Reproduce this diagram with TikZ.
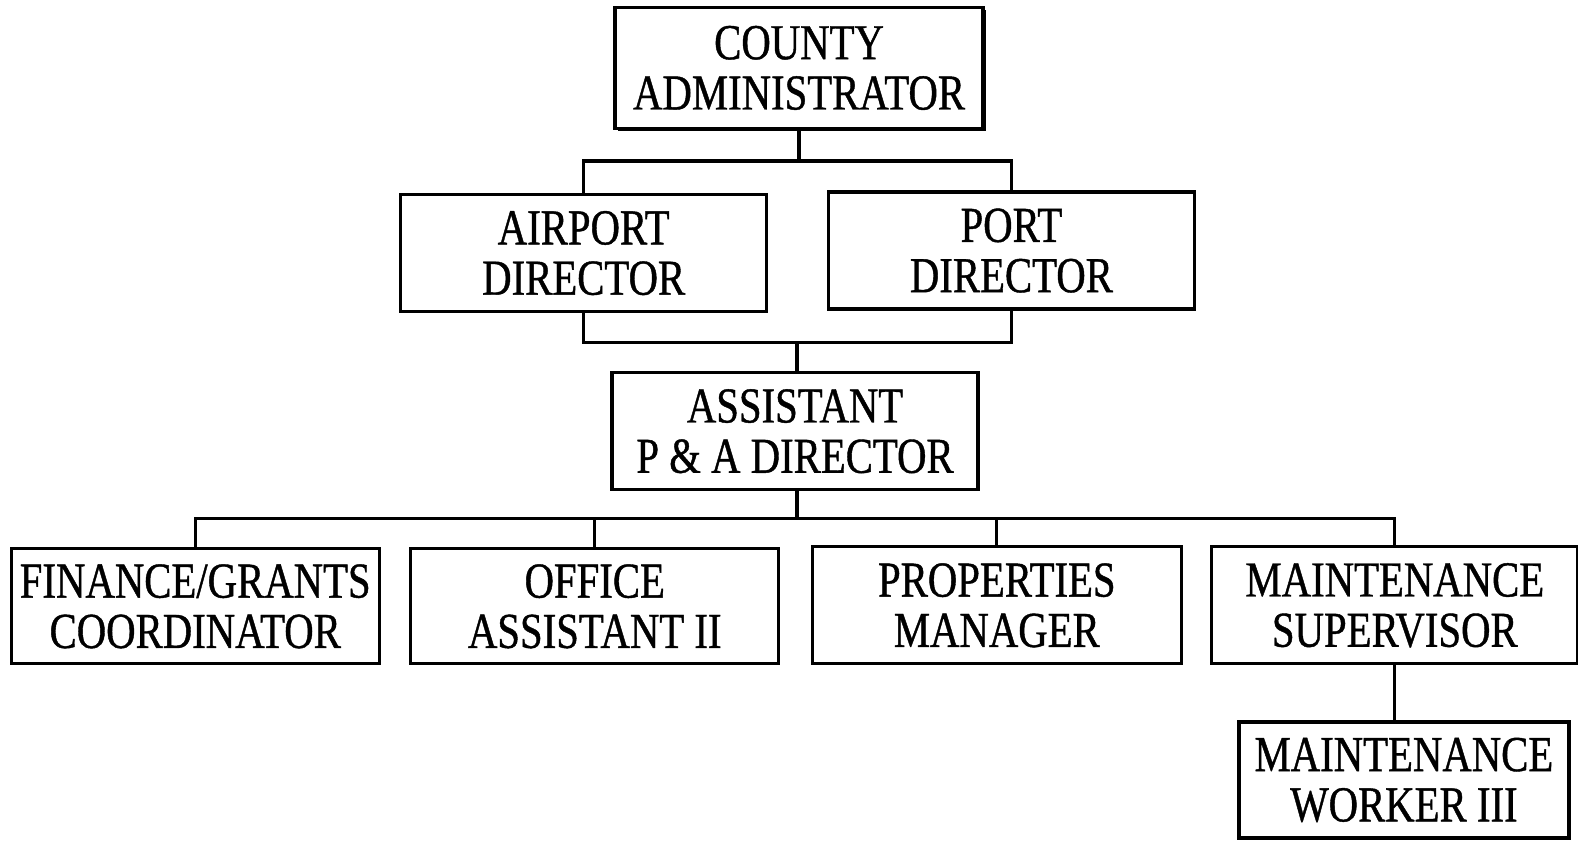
\documentclass[tikz,border=0pt]{standalone}
\usepackage{fontspec}
\setmainfont[FakeStretch=0.81,FakeBold=0.8]{Liberation Serif}
\usetikzlibrary{shadows}

\begin{document}
\begin{tikzpicture}[x=1.0064pt,y=-1.0064pt]
    \useasboundingbox (0,0) rectangle (1568,836);
    \begin{scope} [box style/.style={draw,
                                     rectangle,
                                     line width=3.2pt,
                                     minimum width=366pt,
                                     minimum height=117pt,
                                     inner sep=0pt,
                                     align=center,
                                     fill=white,
                                     font=\fontsize{50.3pt}{50.3pt}\selectfont}]
      \node[box style,minimum width=368pt,minimum height=121pt,
            drop shadow={fill=black,opacity=1,shadow xshift=3pt,shadow yshift=-3pt}]
            (county) at (794,67.5) {COUNTY\\ADMINISTRATOR};
      \node[box style] (airport) at (580,251.5) {AIRPORT\\DIRECTOR};
      \node[box style] (port) at (1005,249) {PORT\\DIRECTOR};
      \node[box style] (assistant) at (790,428.5) {ASSISTANT\\P \& A DIRECTOR};
      \node[box style,minimum width=368pt,minimum height=115pt] (finance) at (194,602.5) {FINANCE/GRANTS\\COORDINATOR};
      \node[box style,minimum width=368pt,minimum height=115pt] (office) at (591,602.5) {OFFICE\\ASSISTANT II};
      \node[box style,minimum width=369pt] (properties) at (990.5,601.5) {PROPERTIES\\MANAGER};
      \node[box style] (maintsup) at (1386,601.5) {MAINTENANCE\\SUPERVISOR};
      \node[box style,minimum width=330pt,minimum height=116pt] (worker) at (1395,775) {MAINTENANCE\\WORKER III};
    \end{scope}

    \begin{scope} [line style/.style={draw=black,line width=3.2pt}]
      \coordinate (topbus) at (794,160);
      \coordinate (midbus) at (792,340);
      \coordinate (lowbus) at (792,515);
      \draw[line style] (county.south) -- (topbus);
      \draw[line style] (airport.north) |- (topbus) -| (port.north);
      \draw[line style] (airport.south) |- (midbus) -| (port.south);
      \draw[line style] (midbus) -- (midbus |- assistant.north);
      \draw[line style] (lowbus |- assistant.south) -- (lowbus);
      \foreach \n in {finance,office,properties,maintsup}{%
        \draw[line style] (lowbus) -| (\n.north);
      }
      \draw[line style] (maintsup.south) -- (maintsup.south |- worker.north);
    \end{scope}

\end{tikzpicture}
\end{document}
